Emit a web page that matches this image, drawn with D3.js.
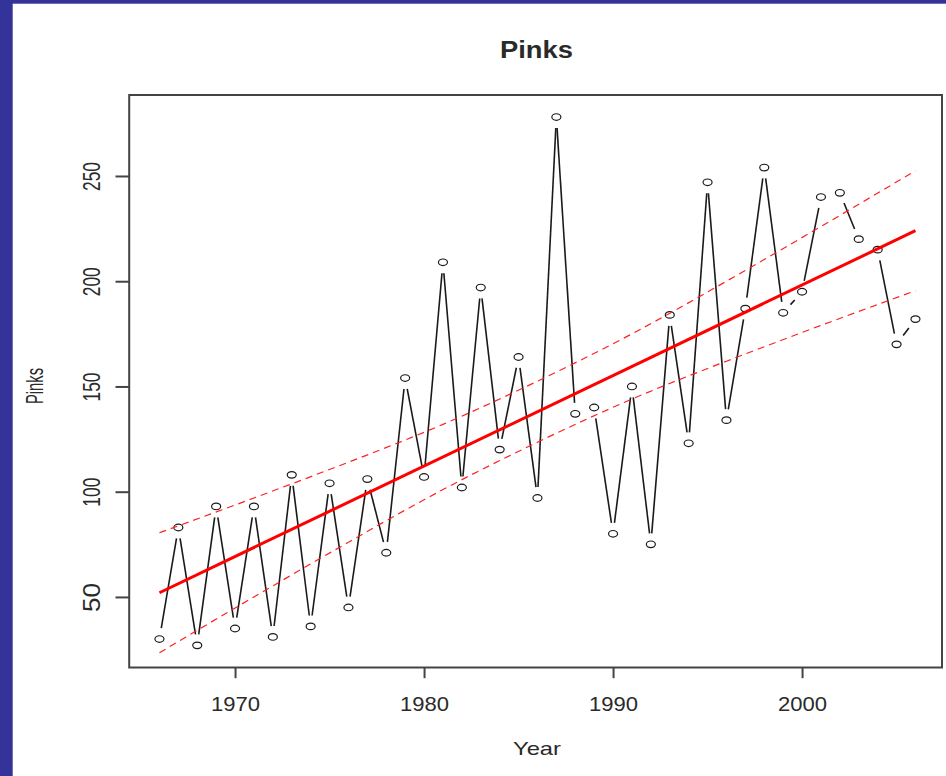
<!DOCTYPE html>
<html>
<head>
<meta charset="utf-8">
<script src="https://cdn.jsdelivr.net/npm/d3@7"></script>
<style>
  html, body { margin: 0; padding: 0; background: #ffffff; }
  svg { display: block; }
  text { font-family: "Liberation Sans", Arial, "DejaVu Sans", sans-serif; fill: #2a2a2a; }
</style>
</head>
<body>
<script>
// ---- data ----
const years = [1966,1967,1968,1969,1970,1971,1972,1973,1974,1975,1976,1977,1978,1979,1980,
               1981,1982,1983,1984,1985,1986,1987,1988,1989,1990,1991,1992,1993,1994,1995,
               1996,1997,1998,1999,2000,2001,2002,2003,2004,2005,2006];
const pinks = [30,83,27,93,35,93,31,108,36,104,45,106,71,154,107,
               209,102,197,120,164,97,278,137,140,80,150,75,184,123,247,
               134,187,254,185,195,240,242,220,215,170,182];
const fitYears = [1966, 2006];
const fitValues = [52, 224];
const bandYears = [1966,1971,1976,1981,1986,1991,1996,2001,2006];
const upperBand = [80.5,97,114,132,152.5,175,200,226,252.5];
const lowerBand = [23.5,50,76,101,123.5,144,162,179,195.5];
const xTicks = [1970,1980,1990,2000];
const yTicks = [50,100,150,200,250];
const titleText = "Pinks";
const xLabel = "Year";
const yLabel = "Pinks";

(function () {
const W = 946, H = 776;
const svg = d3.select("body").append("svg").attr("width", W).attr("height", H);

// page frame (blue border)
svg.append("rect").attr("x",0).attr("y",0).attr("width",W).attr("height",H).attr("fill","#ffffff");
svg.append("rect").attr("x",0).attr("y",0).attr("width",12.7).attr("height",H).attr("fill","#333399");
svg.append("rect").attr("x",0).attr("y",0).attr("width",W).attr("height",3.7).attr("fill","#333399");

// scales (R style 4% extension)
const x = d3.scaleLinear().domain([1964.4, 2007.6]).range([129.2, 945.7]);
const y = d3.scaleLinear().domain([16, 288]).range([668.5, 96]);

const pLeft = 129.2, pRight = 942, pTop = 95, pBottom = 667.5;

// data line (type "b": segments with gaps around points)
const gap = 11;
const pts = years.map((yr,i) => [x(yr), y(pinks[i])]);
const segs = [];
for (let i = 0; i < pts.length - 1; i++) {
  const [x1,y1] = pts[i], [x2,y2] = pts[i+1];
  const dx = x2-x1, dy = y2-y1, d = Math.hypot(dx,dy);
  if (d > 2*gap) {
    const ux = dx/d, uy = dy/d;
    segs.push([x1+ux*gap, y1+uy*gap, x2-ux*gap, y2-uy*gap]);
  }
}
svg.append("g").selectAll("line").data(segs).join("line")
  .attr("x1", s => s[0]).attr("y1", s => s[1]).attr("x2", s => s[2]).attr("y2", s => s[3])
  .attr("stroke", "#1a1a1a").attr("stroke-width", 1.6);

svg.append("g").selectAll("ellipse").data(years).join("ellipse")
  .attr("cx", (d) => x(d)).attr("cy", (d,i) => y(pinks[i]))
  .attr("rx", 4.5).attr("ry", 3.3).attr("fill", "none")
  .attr("stroke", "#1a1a1a").attr("stroke-width", 1.2);

// confidence bands
const bandLine = d3.line().x(d => x(d[0])).y(d => y(d[1])).curve(d3.curveNatural);
svg.append("path").datum(bandYears.map((yr,i) => [yr, upperBand[i]]))
  .attr("d", bandLine).attr("fill","none").attr("stroke","#ff2020")
  .attr("stroke-width",1.2).attr("stroke-dasharray","7,5");
svg.append("path").datum(bandYears.map((yr,i) => [yr, lowerBand[i]]))
  .attr("d", bandLine).attr("fill","none").attr("stroke","#ff2020")
  .attr("stroke-width",1.2).attr("stroke-dasharray","7,5");

// regression line
svg.append("path").datum(fitYears.map((yr,i) => [yr, fitValues[i]]))
  .attr("d", d3.line().x(d => x(d[0])).y(d => y(d[1])))
  .attr("fill","none").attr("stroke","#ff0000").attr("stroke-width",3);

// plot box
svg.append("rect").attr("x", pLeft).attr("y", pTop)
  .attr("width", pRight-pLeft).attr("height", pBottom-pTop)
  .attr("fill","none").attr("stroke","#444").attr("stroke-width",2);

// x axis
const gx = svg.append("g").attr("transform", `translate(0,${pBottom})`)
  .call(d3.axisBottom(x).tickValues(xTicks).tickFormat(d3.format("d")).tickSize(10.7));
gx.select(".domain").remove();
gx.selectAll(".tick line").attr("stroke","#444").attr("stroke-width",2);
gx.selectAll(".tick text")
  .attr("y", 43).attr("dy", 0)
  .attr("font-size", 20).attr("fill", "#2a2a2a")
  .attr("textLength", 49).attr("lengthAdjust","spacingAndGlyphs");

// y axis
const gy = svg.append("g").attr("transform", `translate(${pLeft},0)`)
  .call(d3.axisLeft(y).tickValues(yTicks).tickFormat(d3.format("d")).tickSize(13.7));
gy.select(".domain").remove();
gy.selectAll(".tick line").attr("stroke","#444").attr("stroke-width",2);
gy.selectAll(".tick text")
  .attr("x", 0).attr("y", 0).attr("dy", 0)
  .attr("text-anchor", "middle")
  .attr("transform", "translate(-29,0) rotate(-90)")
  .attr("font-size", 24).attr("fill", "#2a2a2a")
  .attr("textLength", 29).attr("lengthAdjust","spacingAndGlyphs");

// titles
svg.append("text").attr("x", 536.5).attr("y", 58.3)
  .attr("text-anchor","middle").attr("font-size", 23).attr("font-weight","bold")
  .attr("fill","#000").attr("textLength", 73).attr("lengthAdjust","spacingAndGlyphs")
  .text(titleText);
svg.append("text").attr("x", 537).attr("y", 755)
  .attr("text-anchor","middle").attr("font-size", 18.5)
  .attr("textLength", 48).attr("lengthAdjust","spacingAndGlyphs")
  .text(xLabel);
svg.append("text").attr("transform", "translate(43,386) rotate(-90)")
  .attr("text-anchor","middle").attr("font-size", 24)
  .attr("textLength", 36).attr("lengthAdjust","spacingAndGlyphs")
  .text(yLabel);
})();
</script>
</body>
</html>
